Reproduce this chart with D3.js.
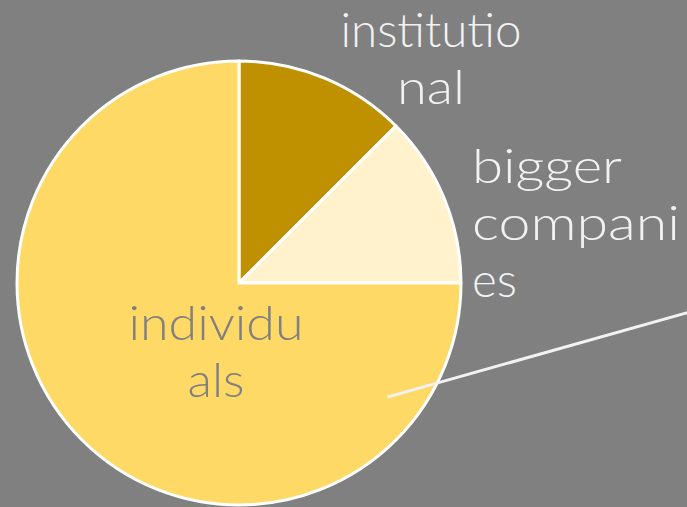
<!DOCTYPE html>
<html lang="en">
<head>
<meta charset="UTF-8">
<title>Pie</title>
<script src="https://d3js.org/d3.v7.min.js"></script>
<style>
  html, body { margin: 0; padding: 0; background: #808080; }
  svg { display: block; }
</style>
</head>
<body>
<svg></svg>
<script>
  // slice data (clockwise from 12 o'clock)
  const categories = ['institutional', 'bigger companies', 'individuals']
  const values = [12.5, 12.5, 75]
  const colors = ['#BF9000', '#FFF2CC', '#FFD966']
  // label lines as they wrap in the picture
  const labelLines = [['institutio', 'nal'], ['bigger', 'compani', 'es'], ['individu', 'als']]

  const width = 687
  const height = 507
  const cx = 239, cy = 283, r = 222

  const svg = d3.select('svg')
    .attr('width', width)
    .attr('height', height)

  const pie = d3.pie().sort(null).value(d => d)
  const arcs = pie(values)
  const arc = d3.arc().innerRadius(0).outerRadius(r)

  const g = svg.append('g').attr('transform', `translate(${cx},${cy})`)

  g.selectAll('path')
    .data(arcs)
    .join('path')
    .attr('d', arc)
    .attr('fill', (d, i) => colors[i])
    .attr('stroke', '#fff')
    .attr('stroke-width', 3)
    .attr('stroke-linejoin', 'round')

  // leader line from the individuals slice off to the right
  const leadAngle = 127.6 * Math.PI / 180
  const leadR = 187
  const x0 = Math.sin(leadAngle) * leadR
  const y0 = -Math.cos(leadAngle) * leadR
  g.append('line')
    .attr('x1', x0).attr('y1', y0)
    .attr('x2', x0 + 320).attr('y2', y0 - 90)
    .attr('stroke', '#F2F2F2')
    .attr('stroke-width', 3)

  // label placement: x, first baseline, colour, width of each line
  const labelPos = [
    { x: 431, y: 47, color: '#F2F2F2', widths: [181, 68] },
    { x: 472, y: 183, color: '#F2F2F2', widths: [150, 208, 45], anchor: 'start' },
    { x: 216, y: 340, color: '#808080', widths: [175, 57] }
  ]
  const lineH = 57

  labelLines.forEach((lines, i) => {
    const p = labelPos[i]
    const t = svg.append('g')
    lines.forEach((s, j) => {
      const w = p.widths[j]
      let x = p.anchor === 'start' ? p.x : p.x - w / 2
      t.append('text')
        .attr('x', x)
        .attr('y', p.y + j * lineH)
        .attr('fill', p.color)
        .attr('font-family', 'Lato, "Open Sans", sans-serif')
        .attr('font-weight', 300)
        .attr('font-size', 48)
        .attr('textLength', w)
        .attr('lengthAdjust', 'spacingAndGlyphs')
        .text(s)
    })
  })
</script>
</body>
</html>
